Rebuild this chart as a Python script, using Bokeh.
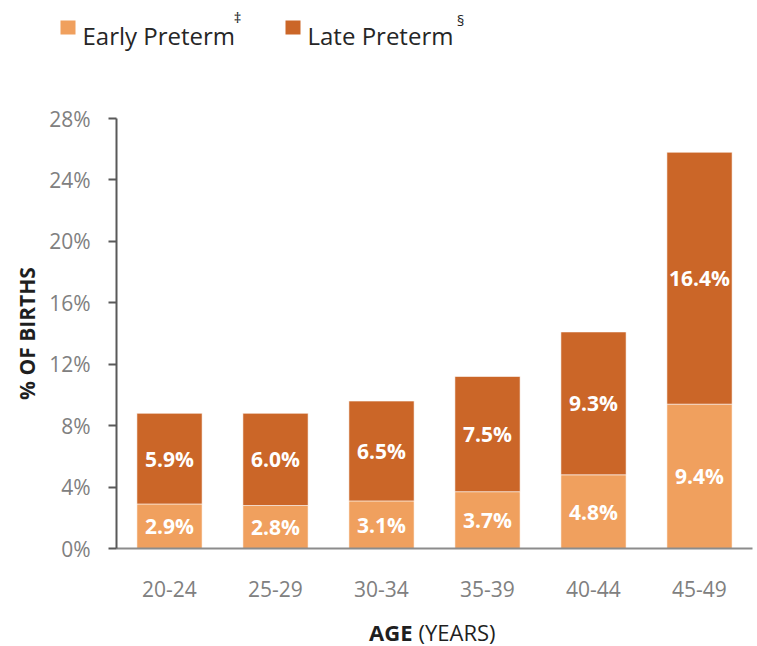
import math
from bokeh.plotting import figure
from bokeh.models import (ColumnDataSource, Range1d, FixedTicker, LinearAxis,
                          PrintfTickFormatter, LabelSet, Label, BoxAnnotation)
from bokeh.core.properties import value
from bokeh.embed import file_html
from bokeh.resources import INLINE

# ---- data ----
ages = ["20-24", "25-29", "30-34", "35-39", "40-44", "45-49"]
early_preterm = [2.9, 2.8, 3.1, 3.7, 4.8, 9.4]
late_preterm = [5.9, 6.0, 6.5, 7.5, 9.3, 16.4]
y_ticks = [0, 4, 8, 12, 16, 20, 24, 28]
series_names = ["Early Preterm", "Late Preterm"]
series_marks = ["\u2021", "\u00a7"]
x_title_bold = "AGE"
x_title_rest = "(YEARS)"
y_title = "% OF BIRTHS"

EARLY = "#F0A05E"
LATE = "#CB6628"
FONT = "Open Sans"
TICK_GRAY = "#808080"
DARK = "#1f1f1f"

W, H = 753, 646
# page-pixel helpers: y axis at page x 116, 106 px per age group; 0% at page y 548, 28% at 118
def dx(px):
    return (px - 116) / 106.0

def dy(py):
    return (548 - py) * y_ticks[-1] / 430.0

xpos = [i + 0.5 for i in range(len(ages))]
early_mid = [e / 2 for e in early_preterm]
late_mid = [e + l / 2 for e, l in zip(early_preterm, late_preterm)]
source = ColumnDataSource(dict(
    x=xpos, age=ages, early=early_preterm, late=late_preterm,
    early_mid=early_mid, late_mid=late_mid,
    early_txt=[f"{v:.1f}%" for v in early_preterm],
    late_txt=[f"{v:.1f}%" for v in late_preterm],
))

p = figure(x_range=Range1d(dx(0), dx(W)), y_range=Range1d(dy(H), dy(0)),
           width=W, height=H, output_backend="svg", toolbar_location=None,
           x_axis_location=None, y_axis_location=None,
           min_border_left=0, min_border_right=0, min_border_top=0,
           min_border_bottom=0)
p.title.visible = False
p.outline_line_color = None
p.grid.grid_line_color = None
p.background_fill_color = "white"
p.border_fill_color = "white"

p.vbar_stack(["early", "late"], x="x", width=0.615, source=source,
             color=[EARLY, LATE], line_color="white", line_alpha=0.55, line_width=1)

for ycol, tcol in (("early_mid", "early_txt"), ("late_mid", "late_txt")):
    p.add_layout(LabelSet(x="x", y=ycol, text=tcol, source=source,
                          text_align="center", text_baseline="middle",
                          text_color="white", text_font=value(FONT),
                          text_font_style="bold", text_font_size="21px"))

# y axis (fixed at x = 0, limited to 0..28%)
yaxis = LinearAxis(fixed_location=0, bounds=(y_ticks[0], y_ticks[-1]),
                   ticker=FixedTicker(ticks=y_ticks),
                   formatter=PrintfTickFormatter(format="%d%%"),
                   axis_line_color="#595959", axis_line_width=2,
                   major_tick_line_color="#595959", major_tick_line_width=2,
                   major_tick_out=8, major_tick_in=0, minor_tick_line_color=None,
                   major_label_text_font=FONT, major_label_text_font_size="21px",
                   major_label_text_color=TICK_GRAY, major_label_standoff=18)
p.add_layout(yaxis, "left")

# x axis (fixed at y = 0)
xaxis = LinearAxis(fixed_location=0, bounds=(0, len(ages)),
                   ticker=FixedTicker(ticks=xpos),
                   major_label_overrides={x: a for x, a in zip(xpos, ages)},
                   axis_line_color="#8c8c8c", axis_line_width=2,
                   major_tick_line_color=None, minor_tick_line_color=None,
                   major_label_text_font=FONT, major_label_text_font_size="21px",
                   major_label_text_color=TICK_GRAY, major_label_standoff=26)
p.add_layout(xaxis, "below")

# axis titles
p.add_layout(Label(x=dx(26), y=(y_ticks[0] + y_ticks[-1]) / 2, text=y_title,
                   angle=math.pi / 2, text_align="center", text_baseline="middle",
                   text_font=FONT, text_font_style="bold", text_font_size="21px",
                   text_color=DARK))
p.add_layout(Label(x=dx(412), y=dy(631), text=x_title_bold, text_align="right",
                   text_baseline="middle", text_font=FONT, text_font_style="bold",
                   text_font_size="22px", text_color=DARK))
p.add_layout(Label(x=dx(418), y=dy(631), text=x_title_rest, text_align="left",
                   text_baseline="middle", text_font=FONT, text_font_size="22px",
                   text_color=DARK))

# legend
legend_specs = [(60, 75, 82, 237, 16, EARLY), (285, 300, 307, 460, 19, LATE)]
for (sq_l, sq_r, tx, mx, my, col), name, mark in zip(legend_specs, series_names, series_marks):
    p.add_layout(BoxAnnotation(left=dx(sq_l), right=dx(sq_r), top=dy(20), bottom=dy(34),
                               fill_color=col, fill_alpha=1, line_color=None))
    p.add_layout(Label(x=dx(tx), y=dy(35), text=name, text_align="left",
                       text_baseline="alphabetic", text_font=FONT,
                       text_font_size="24px", text_color="#262626"))
    p.add_layout(Label(x=dx(mx), y=dy(my), text=mark, text_align="center",
                       text_baseline="middle", text_font=FONT,
                       text_font_size="15px", text_color="#262626"))

open("out.html", "w").write(file_html(p, INLINE))
